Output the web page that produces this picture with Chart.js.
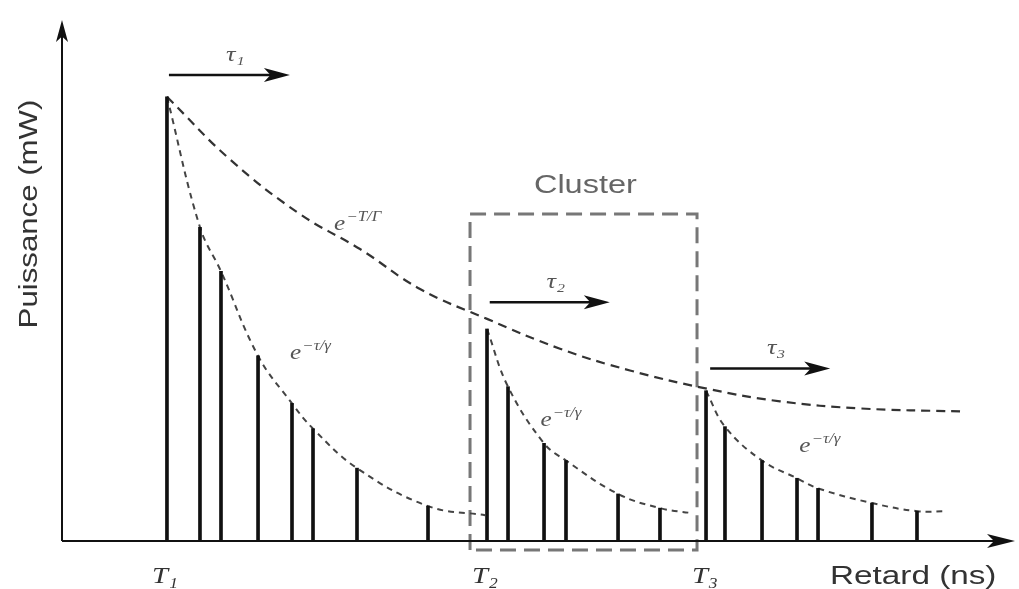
<!DOCTYPE html>
<html>
<head>
<meta charset="utf-8">
<script src="https://cdn.jsdelivr.net/npm/chart.js@4"></script>
<style>
html, body { margin: 0; background: #fff; }
#wrap { width: 1019px; height: 589px; }
canvas { filter: blur(0.5px); }
</style>
</head>
<body>
<div id="wrap"><canvas id="sv"></canvas></div>
<script>
// instants d'arrivée des rayons (ns) et puissances (mW), un tableau par cluster
const rayT1 = [11.19, 14.71, 16.95, 20.90, 24.52, 26.76, 31.45, 39.02];
const rayP1 = [87.8, 62.0, 53.3, 36.6, 27.2, 22.2, 14.4, 6.9];
const rayT2 = [45.31, 47.55, 51.39, 53.73, 59.28, 63.75];
const rayP2 = [41.9, 30.5, 19.3, 15.9, 9.3, 6.5];
const rayT3 = [68.66, 70.68, 74.63, 78.36, 80.60, 86.35, 91.15];
const rayP3 = [29.7, 22.6, 15.9, 12.4, 10.4, 7.5, 5.9];

// enveloppes des rayons à l'intérieur de chaque cluster
const env1X = [11.19, 14.71, 16.95, 20.90, 24.52, 26.76, 31.45, 39.02, 45.10];
const env1Y = [87.8, 62.0, 53.3, 36.6, 27.2, 22.2, 14.4, 6.9, 5.1];
const env2X = [45.31, 47.55, 51.39, 53.73, 59.28, 63.75, 67.16];
const env2Y = [41.9, 30.5, 19.3, 15.9, 9.3, 6.5, 5.5];
const env3X = [68.66, 70.68, 74.63, 78.36, 80.60, 86.35, 91.15, 94.35];
const env3Y = [29.7, 22.6, 15.9, 12.4, 10.4, 7.5, 5.9, 5.9];

// enveloppe des clusters
const clusterEnvX = [11.19, 17.91, 25.37, 31.77, 38.17, 45.31, 53.09, 60.55, 68.76, 76.55, 85.07, 95.74];
const clusterEnvY = [87.8, 75.4, 64.6, 57.7, 49.8, 43.9, 38.0, 33.7, 30.1, 27.6, 26.2, 25.6];

// cadre du deuxième cluster
const boxX = [43.5, 67.7];
const boxY = [-1.8, 64.6];

// arrivées des clusters
const clusterT = [11.19, 45.31, 68.76];
const clusterNames = ['T₁', 'T₂', 'T₃'];

const pts = (xs, ys) => xs.map((v, i) => ({ x: v, y: ys[i] }));

const stems = pts(rayT1, rayP1).concat(pts(rayT2, rayP2), pts(rayT3, rayP3));
const boxPts = [
  { x: boxX[0], y: boxY[0] }, { x: boxX[0], y: boxY[1] },
  { x: boxX[1], y: boxY[1] }, { x: boxX[1], y: boxY[0] },
  { x: boxX[0], y: boxY[0] }
];

function head(ctx, tx, ty, dx, dy, len, w) {
  const bx = tx - dx * len, by = ty - dy * len;
  ctx.beginPath();
  ctx.moveTo(tx, ty);
  ctx.lineTo(bx - dy * w, by + dx * w);
  ctx.lineTo(bx + dx * len * 0.25, by + dy * len * 0.25);
  ctx.lineTo(bx + dy * w, by - dx * w);
  ctx.closePath();
  ctx.fill();
}

// texte un peu élargi horizontalement
function wide(ctx, txt, px, py, align, sx) {
  ctx.save();
  ctx.translate(px, py);
  ctx.scale(sx || 1.3, 1);
  ctx.textAlign = align;
  ctx.fillText(txt, 0, 0);
  ctx.restore();
}

function expLabel(ctx, px, py, sup) {
  ctx.save();
  ctx.translate(px, py);
  ctx.scale(1.2, 1);
  ctx.font = 'italic 21px "Liberation Serif"';
  ctx.textAlign = 'left';
  ctx.fillText('e', 0, 0);
  const w = ctx.measureText('e').width;
  ctx.font = 'italic 14px "Liberation Serif"';
  ctx.fillText(sup, w + 1, -9);
  ctx.restore();
}

const drawing = {
  id: 'drawing',
  afterDatasetsDraw(chart) {
    const { ctx, scales: { x, y } } = chart;
    const X = v => x.getPixelForValue(v), Y = v => y.getPixelForValue(v);
    const x0 = X(0), y0 = Y(0);
    ctx.save();
    ctx.strokeStyle = '#111';
    ctx.fillStyle = '#111';
    ctx.lineWidth = 2;

    // axes
    ctx.beginPath();
    ctx.moveTo(x0, y0); ctx.lineTo(x0, 36);
    ctx.moveTo(x0, y0); ctx.lineTo(995, y0);
    ctx.stroke();
    head(ctx, x0, 20, 0, -1, 22, 6);
    head(ctx, 1015, y0, 1, 0, 28, 7);

    // flèches des délais
    const arrows = [[11.4, 24.3, 92.1], [45.6, 58.4, 47.2], [69.1, 81.9, 34.1]];
    const tauNames = ['τ₁', 'τ₂', 'τ₃'];
    arrows.forEach((r, i) => {
      ctx.lineWidth = 2.5;
      ctx.beginPath();
      ctx.moveTo(X(r[0]), Y(r[2])); ctx.lineTo(X(r[1]) - 10, Y(r[2]));
      ctx.stroke();
      head(ctx, X(r[1]), Y(r[2]), 1, 0, 26, 7);
      ctx.fillStyle = '#555';
      ctx.font = 'italic 22px "Liberation Serif"';
      wide(ctx, tauNames[i], (X(r[0]) + X(r[1])) / 2 + 6, Y(r[2]) - 14, 'center', 1.2);
      ctx.fillStyle = '#111';
    });

    // expressions des enveloppes
    ctx.fillStyle = '#555';
    expLabel(ctx, X(29.0), Y(61.5), '−T/Γ');
    expLabel(ctx, X(24.3), Y(36.0), '−τ/γ');
    expLabel(ctx, X(51.0), Y(22.8), '−τ/γ');
    expLabel(ctx, X(78.6), Y(17.5), '−τ/γ');

    // textes
    ctx.fillStyle = '#666';
    ctx.font = '25px "Liberation Sans"';
    wide(ctx, 'Cluster', X(55.8), 193, 'center', 1.3);

    ctx.fillStyle = '#333';
    ctx.font = 'italic 24px "Liberation Serif"';
    clusterT.forEach((t, i) => wide(ctx, clusterNames[i], X(t) - 2, 583, 'center', 1.2));

    ctx.font = '26px "Liberation Sans"';
    wide(ctx, 'Retard (ns)', 830, 584, 'left', 1.28);

    ctx.translate(37, 214);
    ctx.rotate(-Math.PI / 2);
    ctx.font = '26px "Liberation Sans"';
    wide(ctx, 'Puissance (mW)', 0, 0, 'center', 1.2);
    ctx.restore();
  }
};

const dashed = (data, dash, color, width) => ({
  type: 'line', data, borderColor: color, borderWidth: width, borderDash: dash,
  pointRadius: 0, tension: 0.4, fill: false
});

new Chart(document.getElementById('sv'), {
  type: 'bar',
  data: {
    datasets: [
      { type: 'bar', data: stems, backgroundColor: '#111', barThickness: 3 },
      dashed(pts(env1X, env1Y), [6, 5], '#444', 2),
      dashed(pts(env2X, env2Y), [6, 5], '#444', 2),
      dashed(pts(env3X, env3Y), [6, 5], '#444', 2),
      dashed(pts(clusterEnvX, clusterEnvY), [9, 6], '#333', 2.2),
      Object.assign(dashed(boxPts, [16, 8], '#777', 3), { tension: 0, clip: false })
    ]
  },
  options: {
    responsive: true,
    maintainAspectRatio: false,
    animation: false,
    layout: { padding: { left: 62, right: 19, top: 35, bottom: 48 } },
    plugins: { legend: { display: false }, tooltip: { enabled: false } },
    scales: {
      x: { type: 'linear', min: 0, max: 100, offset: false, display: false },
      y: { min: 0, max: 100, display: false }
    }
  },
  plugins: [drawing]
});
</script>
</body>
</html>
